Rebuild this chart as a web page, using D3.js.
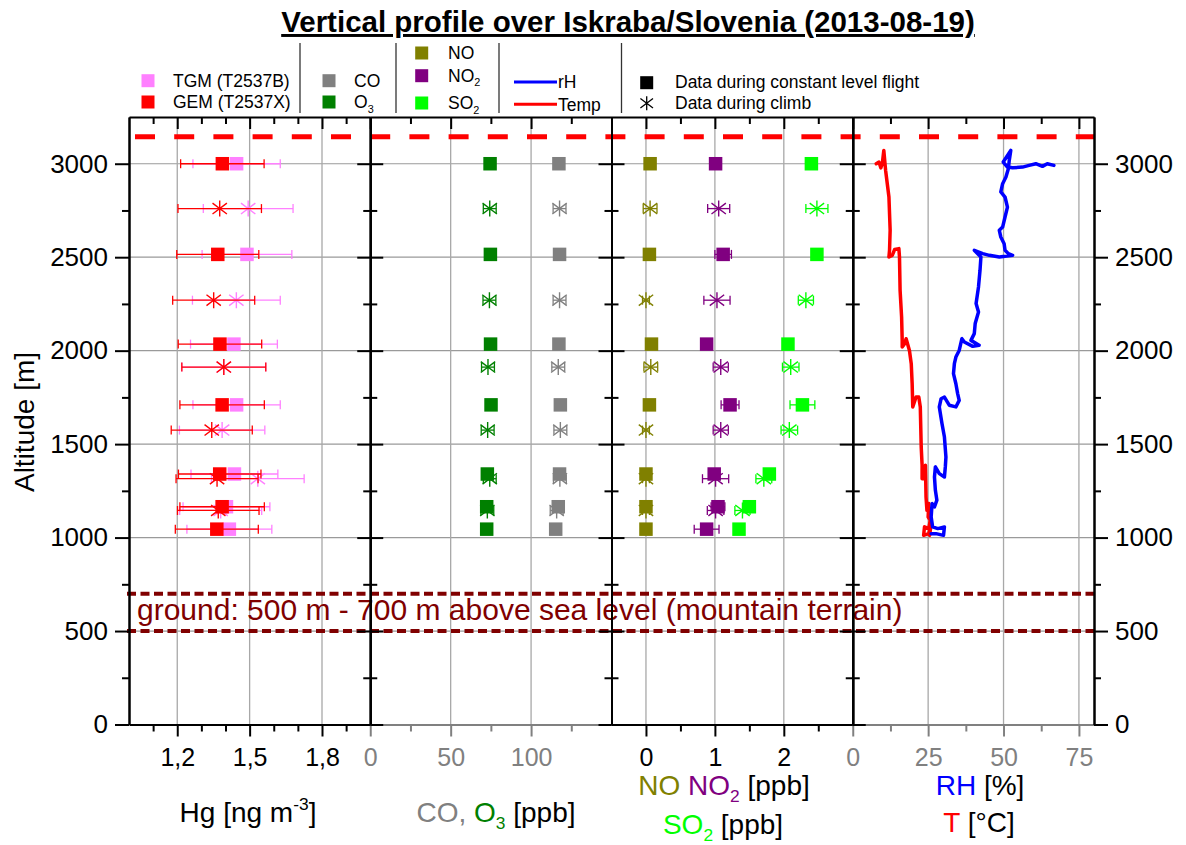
<!DOCTYPE html>
<html><head><meta charset="utf-8">
<script src="https://cdn.jsdelivr.net/npm/d3@7/dist/d3.min.js"></script>
<style>
body{margin:0;background:#fff;}
text{font-family:"Liberation Sans",Arial,Helvetica,sans-serif;}
</style></head><body>
<svg id="c" width="1186" height="845"></svg>
<script>
// ---------------- DATA ----------------
const titleText = "Vertical profile over Iskraba/Slovenia (2013-08-19)";
const altTicks = [0, 500, 1000, 1500, 2000, 2500, 3000];
const altMinor = [250, 750, 1250, 1750, 2250, 2750];
const ceilingAlt = 3145;           // red dashed line
const groundLow = 500, groundHigh = 700;
const groundText = "ground: 500 m - 700 m above sea level (mountain terrain)";

// altitudes of constant level flight legs and of climb segments
const constLevels = [3000, 2515, 2035, 1710, 1340, 1165, 1045];
const climbLevels = [2760, 2270, 1912, 1575, 1315, 1145];

// Hg [ng m-3]
const gemConst    = [1.387, 1.368, 1.377, 1.386, 1.376, 1.386, 1.364];
const gemConstErr = [0.173, 0.170, 0.173, 0.175, 0.171, 0.175, 0.172];
const tgmConst    = [1.446, 1.489, 1.435, 1.446, 1.437, 1.404, 1.416];
const tgmConstErr = [0.181, 0.186, 0.180, 0.181, 0.180, 0.180, 0.176];
const gemClimb    = [1.376, 1.351, 1.393, 1.343, 1.365, 1.370];
const gemClimbErr = [0.173, 0.170, 0.174, 0.168, 0.170, 0.169];
const tgmClimb    = [1.494, 1.445, 1.393, 1.386, 1.534, 1.380];
const tgmClimbErr = [0.186, 0.182, 0.174, 0.177, 0.192, 0.170];

// CO, O3 [ppb]
const o3Const = [74.5, 74.7, 74.8, 75.1, 72.8, 72.4, 72.4];
const o3Climb = [74.3, 74.1, 73.2, 73.0, 74.3, 72.8];
const coConst = [117.3, 117.7, 117.3, 118.2, 117.7, 116.9, 115.3];
const coClimb = [117.7, 117.7, 116.9, 118.2, 117.9, 115.9];
const coO3ClimbErr = [4, 4, 4, 4, 4, 4];

// NO, NO2, SO2 [ppb]
const noConst = [0.06, 0.05, 0.08, 0.05, 0.00, 0.00, 0.00];
const noClimb = [0.06, 0.00, 0.07, 0.00, 0.00, 0.00];
const noClimbErr = [0.10, 0.05, 0.10, 0.05, 0.05, 0.05];
const no2Const    = [1.01, 1.12, 0.88, 1.22, 0.99, 1.045, 0.88];
const no2ConstErr = [0.05, 0.12, 0.05, 0.13, 0.05, 0.10, 0.18];
const no2Climb    = [1.055, 1.03, 1.085, 1.085, 1.01, 1.01];
const no2ClimbErr = [0.16, 0.19, 0.11, 0.11, 0.19, 0.12];
const so2Const    = [2.40, 2.48, 2.06, 2.27, 1.79, 1.50, 1.35];
const so2ConstErr = [0.04, 0.04, 0.04, 0.18, 0.04, 0.04, 0.04];
const so2Climb    = [2.48, 2.32, 2.10, 2.08, 1.71, 1.40];
const so2ClimbErr = [0.16, 0.11, 0.12, 0.12, 0.115, 0.11];

// Temperature profile [altitude m, T °C]
const tempProfile = [
 [3000,7.8],[3009,8.7],[2978,9.3],[3000,9.8],[3071,10.3],[2964,10.9],[2822,12.0],[2644,12.4],
 [2537,12.2],[2501,12.0],[2510,13.1],[2541,13.9],[2546,15.3],[2501,15.5],[2323,15.7],[2180,16.2],
 [2055,16.4],[2019,16.4],[2037,17.2],[2064,17.7],[2001,18.8],[1930,19.4],[1823,19.7],[1699,19.9],
 [1752,21.0],[1752,21.9],[1699,22.4],[1485,22.7],[1387,23.0],[1315,23.0],[1315,24.1],[1387,24.1],
 [1217,24.3],[1146,24.6],[1182,25.2],[1110,25.0],[1093,25.7],[1048,25.2],[1057,23.8],[1012,23.5],
 [1021,25.2],[1075,26.0],[1012,25.5]
];
// Relative humidity profile [altitude m, RH %]
const rhProfile = [
 [2991,66.7],[3000,64.5],[2986,62.9],[3000,60.7],[2991,58.5],[2982,56.3],[2978,53.0],[2982,51.3],
 [3009,49.9],[3071,52.4],[3018,51.9],[2973,51.6],[2929,50.8],[2893,49.7],[2849,49.1],[2822,50.5],
 [2768,51.3],[2715,50.5],[2661,49.7],[2644,48.6],[2608,49.1],[2572,50.2],[2537,50.5],[2519,51.6],
 [2510,53.0],[2501,48.6],[2510,45.3],[2519,43.1],[2537,40.3],[2501,42.5],[2430,42.2],[2341,41.7],
 [2252,40.9],[2207,41.7],[2145,40.6],[2091,40.3],[2055,39.2],[2029,41.9],[2023,39.8],[2046,37.0],
 [2064,36.2],[2001,35.3],[1966,34.2],[1930,33.7],[1877,33.4],[1823,34.2],[1769,34.8],[1734,35.3],
 [1699,34.2],[1708,32.0],[1752,30.4],[1743,29.3],[1699,28.7],[1609,29.6],[1538,30.4],[1431,30.9],
 [1378,30.7],[1324,30.4],[1342,28.7],[1378,27.4],[1324,27.1],[1253,27.4],[1200,27.9],[1164,27.1],
 [1182,26.3],[1110,26.0],[1057,26.5],[1048,28.2],[1057,30.4],[1012,30.1],[1021,27.6],[1021,26.0]
];

// axis definitions per panel
const panelDomains = [[1.0, 2.0], [0, 150], [-0.5, 3.0], [0, 80]];
const panelMajor = [[1.2, 1.5, 1.8], [0, 50, 100], [0, 1, 2], [0, 25, 50, 75]];
const panelMinor = [[1.1, 1.3, 1.4, 1.6, 1.7, 1.9], [25, 75, 125], [0.5, 1.5, 2.5], [12.5, 37.5, 62.5]];
const panelAxisColor = ["#000000", "#808080", "#000000", "#808080"];

// colours
const C = {tgm:"#FF80FF", gem:"#FF0000", co:"#808080", o3:"#008000", no:"#808000",
           no2:"#800080", so2:"#00FF00", rh:"#0000FF", temp:"#FF0000", ground:"#800000"};

// ---------------- LAYOUT ----------------
const FONT = '"Liberation Sans", Arial, Helvetica, sans-serif';
const svg = d3.select("#c");
const L = 129, R = 1094, PW = (R - L) / 4;
const yTop = 117, yBot = 724.5;
const y = d3.scaleLinear().domain([0, 3250]).range([yBot, yTop]);
const xs = panelDomains.map((d, i) => d3.scaleLinear().domain(d).range([L + i * PW, L + (i + 1) * PW]));

// grid
const grid = svg.append("g");
altTicks.filter(a => a > 0).forEach(a => {
  grid.append("line").attr("x1", L).attr("x2", R).attr("y1", y(a)).attr("y2", y(a))
    .attr("stroke", "#9a9a9a").attr("stroke-width", 1.2);
});
xs.forEach((sc, i) => {
  panelMajor[i].forEach(v => {
    const xx = sc(v);
    if (Math.abs(xx - sc.range()[0]) < 1) return;
    grid.append("line").attr("x1", xx).attr("x2", xx).attr("y1", yTop).attr("y2", yBot)
      .attr("stroke", "#a8a8a8").attr("stroke-width", 1.3);
  });
});

// ground lines and text
[groundLow, groundHigh].forEach(a => {
  svg.append("line").attr("x1", L - 2).attr("x2", R).attr("y1", y(a)).attr("y2", y(a))
    .attr("stroke", C.ground).attr("stroke-width", 4).attr("stroke-dasharray", "9,4.5");
});
svg.append("text").attr("x", 137).attr("y", 620).attr("fill", C.ground)
  .attr("font-size", 30).text(groundText);

// ceiling red dashed line
svg.append("line").attr("x1", L).attr("x2", R).attr("y1", y(ceilingAlt)).attr("y2", y(ceilingAlt))
  .attr("stroke", "#FF0000").attr("stroke-width", 5).attr("stroke-dasharray", "20,19.2")
  .attr("stroke-dashoffset", -6);

// ---------------- MARKS ----------------
const SQ = 13.5;
function asteriskPath(s) {
  return `M0,${-s}L0,${s}M${-s*0.9},${-s*0.68}L${s*0.9},${s*0.68}M${-s*0.9},${s*0.68}L${s*0.9},${-s*0.68}`;
}
function errBars(g, sc, levels, vals, errs, color) {
  levels.forEach((a, k) => {
    const e = errs[k]; if (!e) return;
    const x0 = sc(vals[k] - e), x1 = sc(vals[k] + e), yy = y(a);
    g.append("line").attr("x1", x0).attr("x2", x1).attr("y1", yy).attr("y2", yy)
      .attr("stroke", color).attr("stroke-width", 1.3);
    [x0, x1].forEach(xx => g.append("line").attr("x1", xx).attr("x2", xx)
      .attr("y1", yy - 4.5).attr("y2", yy + 4.5).attr("stroke", color).attr("stroke-width", 1.3));
  });
}
function squares(g, sc, levels, vals, color) {
  g.selectAll(null).data(levels.map((a, k) => [a, vals[k]])).enter().append("rect")
    .attr("x", d => sc(d[1]) - SQ / 2).attr("y", d => y(d[0]) - SQ / 2)
    .attr("width", SQ).attr("height", SQ).attr("fill", color);
}
function asterisks(g, sc, levels, vals, color) {
  g.selectAll(null).data(levels.map((a, k) => [a, vals[k]])).enter().append("path")
    .attr("transform", d => `translate(${sc(d[1])},${y(d[0])})`)
    .attr("d", asteriskPath(8)).attr("stroke", color).attr("stroke-width", 1.4).attr("fill", "none");
}
function series(sc, cv, ce, kv, ke, color) {
  const g = svg.append("g");
  if (ce) errBars(g, sc, constLevels, cv, ce, color);
  if (ke) errBars(g, sc, climbLevels, kv, ke, color);
  squares(g, sc, constLevels, cv, color);
  asterisks(g, sc, climbLevels, kv, color);
}
// panel 1
series(xs[0], tgmConst, tgmConstErr, tgmClimb, tgmClimbErr, C.tgm);
series(xs[0], gemConst, gemConstErr, gemClimb, gemClimbErr, C.gem);
// panel 2
series(xs[1], o3Const, null, o3Climb, coO3ClimbErr, C.o3);
series(xs[1], coConst, null, coClimb, coO3ClimbErr, C.co);
// panel 3
series(xs[2], noConst, null, noClimb, noClimbErr, C.no);
series(xs[2], no2Const, no2ConstErr, no2Climb, no2ClimbErr, C.no2);
series(xs[2], so2Const, so2ConstErr, so2Climb, so2ClimbErr, C.so2);
// panel 4
const lineGen = d3.line().x(d => xs[3](d[1])).y(d => y(d[0]));
svg.append("path").datum(tempProfile).attr("d", lineGen).attr("fill", "none")
  .attr("stroke", C.temp).attr("stroke-width", 3.5).attr("stroke-linejoin", "round").attr("stroke-linecap", "round");
svg.append("path").datum(rhProfile).attr("d", lineGen).attr("fill", "none")
  .attr("stroke", C.rh).attr("stroke-width", 3.5).attr("stroke-linejoin", "round").attr("stroke-linecap", "round");

// ---------------- AXES ----------------
function styleAxis(g, color, fs) {
  g.attr("font-family", FONT).attr("font-size", fs || 25);
  g.selectAll(".domain").attr("stroke", color).attr("stroke-width", 2);
  g.selectAll(".tick line").attr("stroke", color).attr("stroke-width", 2);
  g.selectAll(".tick text").attr("fill", color);
}
xs.forEach((sc, i) => {
  const col = panelAxisColor[i];
  const fmt = i === 0 ? (d => d.toFixed(1).replace(".", ",")) : d3.format("d");
  const gb = svg.append("g").attr("transform", `translate(0,${yBot})`);
  gb.call(d3.axisBottom(sc).tickValues(panelMajor[i]).tickSize(12).tickPadding(12).tickSizeOuter(0).tickFormat(fmt));
  styleAxis(gb, col);
  const gm = svg.append("g").attr("transform", `translate(0,${yBot})`);
  gm.call(d3.axisBottom(sc).tickValues(panelMinor[i]).tickSize(7).tickSizeOuter(0).tickFormat(""));
  styleAxis(gm, col); gm.select(".domain").remove();
  // top axis (inward ticks)
  const gt = svg.append("g").attr("transform", `translate(0,${yTop})`);
  gt.call(d3.axisBottom(sc).tickValues(panelMajor[i]).tickSize(12).tickSizeOuter(0).tickFormat(""));
  styleAxis(gt, "#000");
  const gtm = svg.append("g").attr("transform", `translate(0,${yTop})`);
  gtm.call(d3.axisBottom(sc).tickValues(panelMinor[i]).tickSize(7).tickSizeOuter(0).tickFormat(""));
  styleAxis(gtm, "#000"); gtm.select(".domain").remove();
});
const altFmt = d3.format("d");
// left axis
const gl = svg.append("g").attr("transform", `translate(${L},0)`);
gl.call(d3.axisLeft(y).tickValues(altTicks).tickSize(14).tickPadding(7).tickSizeOuter(0).tickFormat(altFmt));
styleAxis(gl, "#000", 26);
const glm = svg.append("g").attr("transform", `translate(${L},0)`);
glm.call(d3.axisLeft(y).tickValues(altMinor).tickSize(7).tickSizeOuter(0).tickFormat(""));
styleAxis(glm, "#000");
// internal boundary axes
[1, 2, 3].forEach(i => {
  const xx = L + i * PW;
  [[d3.axisLeft, 13, altTicks], [d3.axisRight, 13, altTicks], [d3.axisLeft, 7, altMinor], [d3.axisRight, 7, altMinor]]
    .forEach(([ax, sz, tv]) => {
      const g = svg.append("g").attr("transform", `translate(${xx},0)`);
      g.call(ax(y).tickValues(tv).tickSize(sz).tickSizeOuter(0).tickFormat(""));
      styleAxis(g, "#000");
    });
});
// right axis
const gr = svg.append("g").attr("transform", `translate(${R},0)`);
gr.call(d3.axisRight(y).tickValues(altTicks).tickSize(14).tickPadding(7).tickSizeOuter(0).tickFormat(altFmt));
styleAxis(gr, "#000", 26);
const grm = svg.append("g").attr("transform", `translate(${R},0)`);
grm.call(d3.axisRight(y).tickValues(altMinor).tickSize(7).tickSizeOuter(0).tickFormat(""));
styleAxis(grm, "#000");

// ---------------- TEXTS ----------------
function richText(x, yy, fs, parts, anchor) {
  const t = svg.append("text").attr("x", x).attr("y", yy).attr("font-size", fs)
    .attr("text-anchor", anchor || "start");
  parts.forEach(p => {
    const sp = t.append("tspan").text(p.t).attr("fill", p.c || "#000");
    if (p.sub) sp.attr("font-size", fs * 0.62).attr("dy", fs * 0.25);
    if (p.sup) sp.attr("font-size", fs * 0.62).attr("dy", -fs * 0.42);
    if (p.back) sp.attr("dy", p.back);
  });
  return t;
}
// title
svg.append("text").attr("x", 628).attr("y", 32).attr("text-anchor", "middle")
  .attr("font-size", 29.5).attr("font-weight", "bold").attr("text-decoration", "underline")
  .text(titleText);
// y title
svg.append("text").attr("transform", "translate(34,422) rotate(-90)").attr("text-anchor", "middle")
  .attr("font-size", 28).text("Altitude [m]");
// x titles
const AF = 28;
richText(248, 822, AF, [{t:"Hg [ng m"}, {t:"-3", sup:true}, {t:"]", back: AF*0.42}], "middle");
richText(496, 822, AF, [{t:"CO, ", c:C.co}, {t:"O", c:C.o3}, {t:"3", c:C.o3, sub:true}, {t:" [ppb]", back:-AF*0.25}], "middle");
richText(724, 795, AF, [{t:"NO ", c:C.no}, {t:"NO", c:C.no2}, {t:"2", c:C.no2, sub:true}, {t:" [ppb]", back:-AF*0.25}], "middle");
richText(723, 834, AF, [{t:"SO", c:C.so2}, {t:"2", c:C.so2, sub:true}, {t:" [ppb]", back:-AF*0.25}], "middle");
richText(980, 795, AF, [{t:"RH", c:C.rh}, {t:" [%]"}], "middle");
richText(979, 832, AF, [{t:"T", c:C.temp}, {t:" [°C]"}], "middle");

// ---------------- LEGEND ----------------
const LF = 17.5;
[300, 396, 499, 621.5].forEach(xx => svg.append("line").attr("x1", xx).attr("x2", xx)
  .attr("y1", 43).attr("y2", 113).attr("stroke", "#333").attr("stroke-width", 1.3));
function legSq(cx, cy, color) {
  svg.append("rect").attr("x", cx - 6.5).attr("y", cy - 6.5).attr("width", 13).attr("height", 13).attr("fill", color);
}
legSq(148, 80.7, C.tgm); richText(173, 87, LF, [{t:"TGM (T2537B)"}]);
legSq(148, 102, C.gem);  richText(173, 108.3, LF, [{t:"GEM (T2537X)"}]);
legSq(329, 80.7, C.co);  richText(354, 87, LF, [{t:"CO"}]);
legSq(329, 102, C.o3);   richText(354, 108.3, LF, [{t:"O"}, {t:"3", sub:true}]);
legSq(421.7, 53, C.no);  richText(448, 59.3, LF, [{t:"NO"}]);
legSq(421.7, 75.7, C.no2); richText(448, 82, LF, [{t:"NO"}, {t:"2", sub:true}]);
legSq(421.7, 103, C.so2);  richText(448, 109.3, LF, [{t:"SO"}, {t:"2", sub:true}]);
svg.append("line").attr("x1", 514).attr("x2", 557).attr("y1", 82).attr("y2", 82).attr("stroke", C.rh).attr("stroke-width", 3);
richText(558, 88.3, LF, [{t:"rH"}]);
svg.append("line").attr("x1", 514).attr("x2", 557).attr("y1", 104.3).attr("y2", 104.3).attr("stroke", C.temp).attr("stroke-width", 3);
richText(558, 110.5, LF, [{t:"Temp"}]);
legSq(646.7, 82.7, "#000"); richText(675, 88.3, LF, [{t:"Data during constant level flight"}]);
svg.append("path").attr("transform", "translate(646.7,103.3)").attr("d", asteriskPath(7))
  .attr("stroke", "#000").attr("stroke-width", 1.3).attr("fill", "none");
richText(675, 109.3, LF, [{t:"Data during climb"}]);
</script>
</body></html>
